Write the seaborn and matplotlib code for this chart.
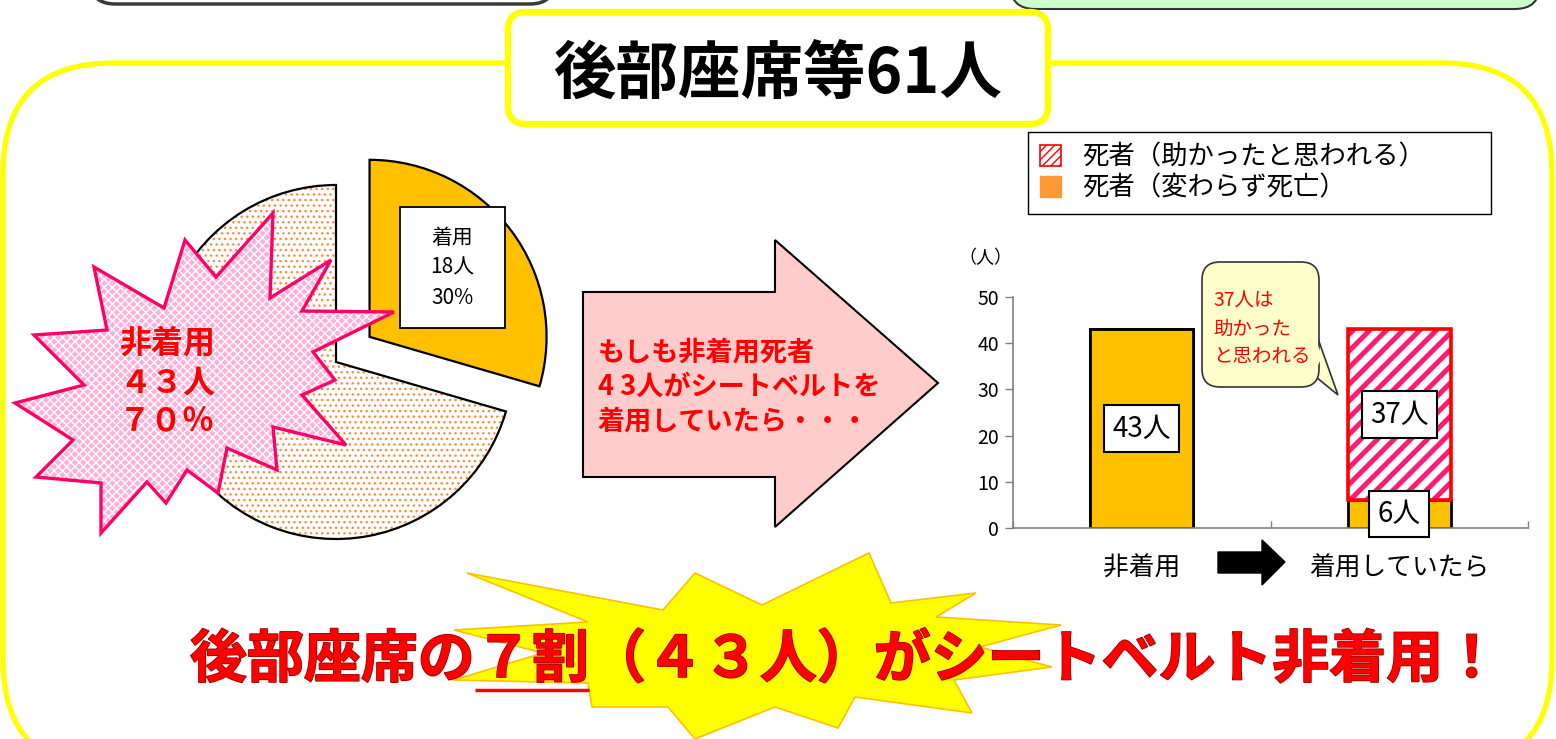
import matplotlib
matplotlib.use("Agg")
import matplotlib.pyplot as plt
from matplotlib.patches import Polygon, FancyBboxPatch, Patch, Rectangle
import matplotlib.patheffects as pe
import seaborn as sns
import pandas as pd

# ---- data ----
pie_labels = ["着用", "非着用"]
pie_counts = [18, 43]
bar_categories = ["非着用", "着用していたら"]
bar_unchanged = [43, 6]   # 死者（変わらず死亡）
bar_saved = [0, 37]       # 死者（助かったと思われる）
y_ticks = [0, 10, 20, 30, 40, 50]
legend_labels = ["死者（助かったと思われる）", "死者（変わらず死亡）"]

W, H = 1556, 739
ORANGE = "#FFC000"
RED = "#FF0000"

sns.set_theme(style="white")
plt.rcParams["font.family"] = ["Noto Sans CJK JP", "DejaVu Sans"]
plt.rcParams["hatch.linewidth"] = 1.0
plt.rcParams["text.color"] = "black"
plt.rcParams["xtick.labelcolor"] = "black"
plt.rcParams["ytick.labelcolor"] = "black"


def zen(s):
    return s.translate(str.maketrans("0123456789%", "０１２３４５６７８９％"))


def rbox(ax, x0, y0, x1, y1, r, **kw):
    p = FancyBboxPatch((x0 + r, y0 + r), x1 - x0 - 2 * r, y1 - y0 - 2 * r,
                       boxstyle=f"round,pad={r}", **kw)
    ax.add_patch(p)
    return p


total = sum(pie_counts)
pct = [round(c / total * 100) for c in pie_counts]

fig = plt.figure(figsize=(15.56, 7.39), dpi=100)

# background layer (pixel coordinates, y down)
bg = fig.add_axes([0, 0, 1, 1], zorder=0)
bg.set_xlim(0, W)
bg.set_ylim(H, 0)
bg.axis("off")

rbox(bg, 90, -60, 555, 4, 25, fc="white", ec="#3A3A3A", lw=2.5)
rbox(bg, 1010, -60, 1540, 9, 25, fc="#CCFFCC", ec="#333333", lw=1.5)
rbox(bg, 3, 63, 1552, 770, 110, fc="white", ec="#FFFF00", lw=3.8)
rbox(bg, 508, 12, 1048, 124, 18, fc="white", ec="#FFFF00", lw=4.5, zorder=3)
bg.text(778, 74, f"後部座席等{total}人", fontsize=45, fontweight="bold",
        ha="center", va="center", zorder=4)

# pink arrow
bg.add_patch(Polygon([(583, 292), (775, 292), (775, 240), (938, 383),
                      (775, 527), (775, 477), (583, 477)],
                     closed=True, fc="#FFCCCC", ec="black", lw=1.5, zorder=2))
bg.text(598, 387, f"もしも{pie_labels[1]}死者\n{pie_counts[1] // 10} {pie_counts[1] % 10}人がシートベルトを\n着用していたら・・・",
        color=RED, fontsize=19.5, fontweight="bold", ha="left", va="center",
        linespacing=1.3, zorder=3)

# ---- pie ----
L = 1.3
R = 177
pie_ax = fig.add_axes([(336 - L * R) / W, 1 - (362 + L * R) / H, 2 * L * R / W, 2 * L * R / H], zorder=1)
pie_ax.set_facecolor("none")
pie_ax.pie(pie_counts, startangle=90, counterclock=False, explode=[0.237, 0],
           colors=[ORANGE, "white"], hatch=["", "..."],
           wedgeprops=dict(edgecolor="#FF8C3C", linewidth=0))
pie_ax.pie(pie_counts, startangle=90, counterclock=False, explode=[0.237, 0],
           wedgeprops=dict(fill=False, edgecolor="black", linewidth=1.6))
pie_ax.set_xlim(-L, L)
pie_ax.set_ylim(-L, L)
pie_ax.axis("off")

# ---- bar chart ----
bar_ax = fig.add_axes([1013 / W, 1 - 528 / H, 515 / W, 231 / H], zorder=1)
bar_ax.set_facecolor("none")
df = pd.DataFrame({
    "category": bar_categories,
    "total": [u + s for u, s in zip(bar_unchanged, bar_saved)],
    "unchanged": bar_unchanged,
})
sns.barplot(data=df, x="category", y="total", hue="category", palette=[ORANGE, "white"],
            saturation=1, width=0.4, edgecolor="black", linewidth=2, errorbar=None,
            legend=False, ax=bar_ax)
saved_bar = bar_ax.patches[1]
saved_bar.set_facecolor("white")
saved_bar.set_hatch("//")
saved_bar.set_edgecolor("#FF1A75")
saved_bar.set_linewidth(0)
if hasattr(saved_bar, "set_hatch_linewidth"):
    saved_bar.set_hatch_linewidth(3.6)
sns.barplot(data=df, x="category", y="unchanged", color=ORANGE, saturation=1, width=0.4,
            edgecolor="black", linewidth=2, errorbar=None, ax=bar_ax)
bar_ax.add_patch(Rectangle((saved_bar.get_x(), bar_unchanged[1]), saved_bar.get_width(),
                           bar_saved[1], fill=False, ec=RED, lw=2.6, zorder=3))

bar_ax.set_xlim(-0.5, 1.5)
bar_ax.set_ylim(0, 50)
bar_ax.set_yticks(y_ticks)
bar_ax.set_xlabel("")
bar_ax.set_ylabel("")
sns.despine(ax=bar_ax)
for s in ["left", "bottom"]:
    bar_ax.spines[s].set_color("#808080")
    bar_ax.spines[s].set_linewidth(1.2)
bar_ax.tick_params(axis="y", length=6, width=1, color="#808080", labelsize=14, pad=4, direction="out", left=True)
bar_ax.tick_params(axis="x", which="major", length=0, labelsize=18.5, pad=20)
bar_ax.set_xticks([-0.5, 0.5, 1.5], minor=True)
bar_ax.tick_params(axis="x", which="minor", length=5, width=1, color="#808080", direction="in", bottom=True)

box_style = dict(boxstyle="square,pad=0.3", fc="white", ec="black", lw=1.5)
for i, cat in enumerate(bar_categories):
    if bar_saved[i] == 0:
        bar_ax.text(i, bar_unchanged[i] / 2, f"{bar_unchanged[i]}人", fontsize=20, ha="center",
                    va="center", bbox=box_style, zorder=5)
    else:
        bar_ax.text(i, bar_unchanged[i] + bar_saved[i] / 2, f"{bar_saved[i]}人", fontsize=20,
                    ha="center", va="center", bbox=box_style, zorder=5)
        bar_ax.text(i, bar_unchanged[i] / 2, f"{bar_unchanged[i]}人", fontsize=20, ha="center",
                    va="center", bbox=box_style, zorder=5, clip_on=False)

# legend
handles = [Patch(facecolor="white", edgecolor=RED, hatch="////", lw=1.2),
           Patch(facecolor="#FF9933", edgecolor="#FF9933")]
fig.legend(handles, legend_labels, loc="upper left",
           bbox_to_anchor=(1028 / W, 1 - 218 / H, 463 / W, 86 / H), mode="expand",
           fontsize=19, frameon=True, fancybox=False, framealpha=1, edgecolor="black",
           borderaxespad=0, borderpad=0.45, labelspacing=0.15, handlelength=0.8,
           handleheight=0.85, handletextpad=0.8)

# ---- foreground layer ----
fg = fig.add_axes([0, 0, 1, 1], zorder=3)
fg.set_facecolor("none")
fg.set_xlim(0, W)
fg.set_ylim(H, 0)
fg.axis("off")

fg.text(985, 258, "（人）", fontsize=13, ha="center", va="center")

# pink starburst
star = [(273, 213), (270, 298), (331, 260), (302, 311), (394, 312), (313, 352), (335, 380),
        (302, 395), (346, 445), (273, 427), (277, 470), (227, 448), (218, 493), (187, 470),
        (166, 503), (147, 482), (101, 533), (101, 483), (36, 477), (73, 440), (15, 403),
        (84, 385), (34, 335), (107, 330), (94, 267), (164, 308), (185, 240), (216, 277)]
sp = Polygon(star, closed=True, fc="#FFB0D8", ec="white", lw=0, hatch="xxxx")
fg.add_patch(sp)
fg.add_patch(Polygon(star, closed=True, fill=False, ec="#FF0066", lw=2.4))
fg.text(167, 383, f"{pie_labels[1]}\n{zen(str(pie_counts[1]))}人\n{zen(str(pct[1]))}％",
        color=RED, fontsize=23, fontweight="bold", ha="center", va="center", linespacing=1.3)

# label box for 着用 slice
fg.add_patch(Rectangle((400, 207), 105, 121, fc="white", ec="black", lw=1.3))
fg.text(452, 268, f"{pie_labels[0]}\n{pie_counts[0]}人\n{pct[0]}%", fontsize=15,
        ha="center", va="center", linespacing=1.5)

# callout bubble
fg.add_patch(Polygon([(1316, 333), (1338, 395), (1316, 377)], closed=True,
                     fc="#FFFFCC", ec="#333333", lw=1.2))
rbox(fg, 1202, 262, 1319, 387, 18, fc="#FFFFCC", ec="#333333", lw=1.2)
fg.add_patch(Polygon([(1314, 335), (1322, 356), (1314, 375)], closed=True, fc="#FFFFCC", lw=0))
fg.text(1213, 329, f"{bar_saved[1]}人は\n助かった\nと思われる", color=RED, fontsize=14,
        ha="left", va="center", linespacing=1.4)

# black arrow between categories
fg.add_patch(Polygon([(1218, 552), (1262, 552), (1262, 540), (1285, 562), (1262, 585),
                      (1262, 573), (1218, 573)], closed=True, fc="black", ec="black"))

# bottom yellow starburst
ystar = [(467, 573), (663, 610), (695, 573), (762, 605), (869, 553), (891, 603), (976, 593),
         (936, 617), (1061, 625), (980, 647), (1052, 667), (954, 680), (972, 713), (855, 697),
         (838, 728), (775, 707), (695, 739), (668, 707), (592, 707), (588, 683), (454, 680),
         (543, 653), (454, 630), (588, 622)]
fg.add_patch(Polygon(ystar, closed=True, fc="#FFFF00", ec="#FFC000", lw=1.2))

# bottom slogan
renderer = fig.canvas.get_renderer()
x = 190
parts = [("後部座席の", False), (f"{zen(str(pct[1] // 10))}割", True),
         (f"（{zen(str(pie_counts[1]))}人）がシートベルト非着用！", False)]
for part, underline in parts:
    t = fg.text(x, 660, part, color=RED, fontsize=41, fontweight="bold", ha="left", va="center",
                path_effects=[pe.withStroke(linewidth=1.2, foreground="#A00000")])
    bb = t.get_window_extent(renderer)
    x1 = fg.transData.inverted().transform((bb.x1, bb.y0))[0]
    if underline:
        fg.plot([x, x1], [690, 690], color=RED, lw=2.5, solid_capstyle="butt")
    x = x1

fig.savefig("out.png", dpi=100)
